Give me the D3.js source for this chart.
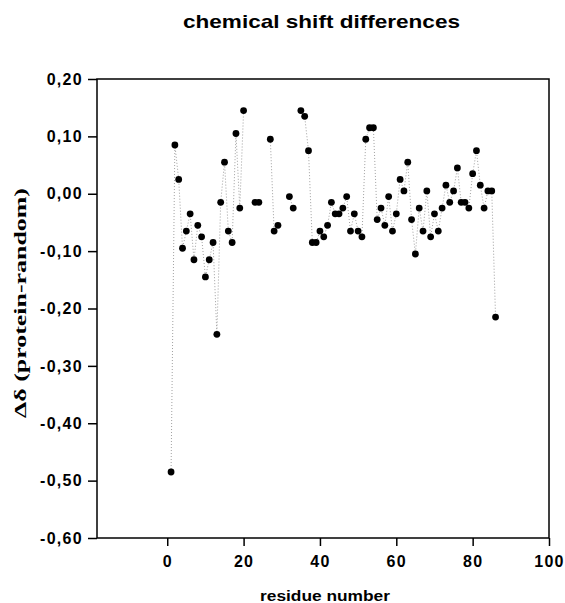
<!DOCTYPE html>
<html>
<head>
<meta charset="utf-8">
<script src="https://cdn.jsdelivr.net/npm/d3@7"></script>
<style>
  body { margin: 0; background: #fff; }
  svg { display: block; }
</style>
</head>
<body>
<div id="chart"></div>
<script>
// residue numbers and delta values (null = no data)
const residues = d3.range(1, 87);
const deltas = [
  -0.485, 0.085, 0.025, -0.095, -0.065, -0.035, -0.115, -0.055, -0.075, -0.145,
  -0.115, -0.085, -0.245, -0.015, 0.055, -0.065, -0.085, 0.105, -0.025, 0.145,
  null, null, -0.015, -0.015, null, null, 0.095, -0.065, -0.055, null,
  null, -0.005, -0.025, null, 0.145, 0.135, 0.075, -0.085, -0.085, -0.065,
  -0.075, -0.055, -0.015, -0.035, -0.035, -0.025, -0.005, -0.065, -0.035, -0.065,
  -0.075, 0.095, 0.115, 0.115, -0.045, -0.025, -0.055, -0.005, -0.065, -0.035,
  0.025, 0.005, 0.055, -0.045, -0.105, -0.025, -0.065, 0.005, -0.075, -0.035,
  -0.065, -0.025, 0.015, -0.015, 0.005, 0.045, -0.015, -0.015, -0.025, 0.035,
  0.075, 0.015, -0.025, 0.005, 0.005, -0.215
];
const xTicks = [0, 20, 40, 60, 80, 100];
const yTicks = [0.2, 0.1, 0, -0.1, -0.2, -0.3, -0.4, -0.5, -0.6];

const width = 565, height = 603;
const margin = { top: 79, right: 16, bottom: 65, left: 97 };
const innerW = width - margin.left - margin.right;
const innerH = height - margin.top - margin.bottom;

const data = residues.map((r, i) => ({ r: r, v: deltas[i] }));

const svg = d3.select('#chart')
  .append('svg')
  .attr('width', width)
  .attr('height', height);

const g = svg.append('g')
  .attr('transform', `translate(${margin.left},${margin.top})`);

const x = d3.scaleLinear()
  .domain([-18.4, 100])
  .range([0, innerW]);

const y = d3.scaleLinear()
  .domain([-0.6, 0.2])
  .range([innerH, 0]);

// comma decimals, plain hyphen for minus
const locale = d3.formatLocale({ decimal: ',', thousands: '.', grouping: [3], currency: ['', ''], minus: '-' });
const fmt = locale.format('.2f');

// dotted connecting line
const line = d3.line()
  .defined(d => d.v !== null)
  .x(d => x(d.r))
  .y(d => y(d.v));

g.append('path')
  .datum(data)
  .attr('fill', 'none')
  .attr('stroke', '#a0a0a0')
  .attr('stroke-width', 1)
  .attr('stroke-dasharray', '1,2')
  .attr('d', line);

g.selectAll('.dot')
  .data(data.filter(d => d.v !== null))
  .enter()
  .append('circle')
  .attr('class', 'dot')
  .attr('cx', d => x(d.r))
  .attr('cy', d => y(d.v))
  .attr('r', 3.4)
  .attr('fill', '#000');

// frame
g.append('rect')
  .attr('width', innerW)
  .attr('height', innerH)
  .attr('fill', 'none')
  .attr('stroke', '#000')
  .attr('stroke-width', 1.5);

const xAxis = g.append('g')
  .attr('transform', `translate(0,${innerH})`)
  .call(d3.axisBottom(x).tickValues(xTicks).tickSize(8).tickSizeOuter(0).tickPadding(10));

const yAxis = g.append('g')
  .call(d3.axisLeft(y).tickValues(yTicks).tickFormat(fmt).tickSize(9).tickSizeOuter(0).tickPadding(5));

[xAxis, yAxis].forEach(a => {
  a.select('.domain').remove();
  a.selectAll('line').attr('stroke', '#000').attr('stroke-width', 1.5);
  a.selectAll('text')
    .attr('fill', '#000')
    .style('font-family', '"Liberation Sans", Arial, sans-serif')
    .style('font-weight', 'bold')
    .style('font-size', '16px')
    .style('letter-spacing', '1.3px');
});

svg.append('text')
  .attr('x', 321.5)
  .attr('y', 28)
  .attr('text-anchor', 'middle')
  .attr('textLength', 277)
  .attr('lengthAdjust', 'spacingAndGlyphs')
  .style('font-family', '"Liberation Sans", Arial, sans-serif')
  .style('font-weight', 'bold')
  .style('font-size', '19px')
  .text('chemical shift differences');

svg.append('text')
  .attr('x', 325)
  .attr('y', 601)
  .attr('text-anchor', 'middle')
  .attr('textLength', 130)
  .attr('lengthAdjust', 'spacingAndGlyphs')
  .style('font-family', '"Liberation Sans", Arial, sans-serif')
  .style('font-weight', 'bold')
  .style('font-size', '15px')
  .text('residue number');

svg.append('text')
  .attr('transform', 'translate(26,303) rotate(-90)')
  .attr('text-anchor', 'middle')
  .attr('textLength', 230)
  .attr('lengthAdjust', 'spacingAndGlyphs')
  .style('font-family', '"Liberation Serif", "Times New Roman", serif')
  .style('font-weight', 'bold')
  .style('font-size', '17px')
  .text('Δδ (protein-random)');
</script>
</body>
</html>
